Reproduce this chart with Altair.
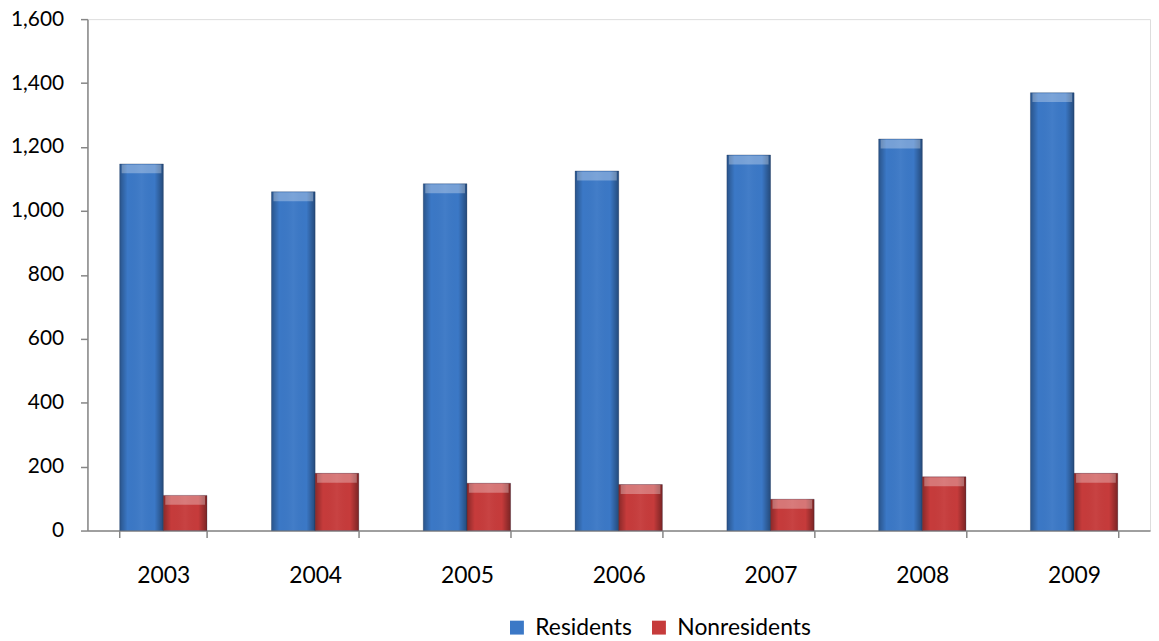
import altair as alt
import pandas as pd

years = ["2003", "2004", "2005", "2006", "2007", "2008", "2009"]
residents = [1147, 1060, 1085, 1125, 1175, 1225, 1370]
nonresidents = [110, 179, 148, 144, 98, 168, 179]
series = ["Residents", "Nonresidents"]
colors = ["#3B78C6", "#C63B3B"]

rows = []
for i, y in enumerate(years):
    rows.append({"year": y, "series": series[0], "value": residents[i]})
    rows.append({"year": y, "series": series[1], "value": nonresidents[i]})
df = pd.DataFrame(rows)

FONT = "Lato"
AX = "#868686"

x_enc = alt.X("year:N", sort=years,
              scale=alt.Scale(paddingInner=0.425, paddingOuter=0.2125),
              axis=alt.Axis(title=None, tickBand="extent", domainColor=AX, tickColor=AX,
                            tickSize=7, labelPadding=27, labelFontSize=23, labelFont=FONT,
                            labelColor="#000000", labelAngle=0, domainWidth=1.5, tickWidth=1.5))
y_enc = alt.Y("value:Q", scale=alt.Scale(domain=[0, 1600], nice=False),
              axis=alt.Axis(title=None, values=list(range(0, 1601, 200)), format=",.0f",
                            grid=False, domainColor=AX, tickColor=AX, tickSize=7,
                            labelPadding=17, labelFontSize=21, labelFont=FONT,
                            labelColor="#000000", domainWidth=1.5, tickWidth=1.5))
xo = alt.XOffset("series:N", sort=series, scale=alt.Scale(domain=series, paddingInner=0))

base = alt.Chart(df)

bars = base.mark_bar(stroke="#1d3050", strokeOpacity=0.35, strokeWidth=0.8).encode(
    x=x_enc, y=y_enc, xOffset=xo,
    color=alt.Color("series:N", sort=series,
                    scale=alt.Scale(domain=series, range=colors),
                    legend=alt.Legend(title=None, orient="none", legendX=421, legendY=601,
                                      direction="horizontal", symbolType="square",
                                      symbolSize=196, symbolStrokeWidth=0,
                                      labelFontSize=23, labelFont=FONT, labelColor="#000000",
                                      labelOffset=7, columnPadding=15)),
)

shade = alt.Gradient(
    gradient="linear", x1=0, x2=1, y1=0, y2=0,
    stops=[
        alt.GradientStop(color="rgba(0,0,0,0.30)", offset=0),
        alt.GradientStop(color="rgba(0,0,0,0.0)", offset=0.18),
        alt.GradientStop(color="rgba(255,255,255,0.04)", offset=0.5),
        alt.GradientStop(color="rgba(0,0,0,0.0)", offset=0.8),
        alt.GradientStop(color="rgba(0,0,0,0.38)", offset=1),
    ],
)
overlay = base.mark_bar(color=shade).encode(x=x_enc, y=y_enc, xOffset=xo)

top = base.mark_tick(color="white", opacity=0.3, thickness=9, size=40, yOffset=5).encode(
    x=x_enc, y=y_enc, xOffset=xo)

chart = alt.layer(bars, overlay, top).properties(
    width=1070, height=515,
    autosize=alt.AutoSizeParams(type="none"),
    padding={"left": 80, "top": 9, "right": 1, "bottom": 108},
).configure_view(stroke=None).configure(background="white")

chart.save("out.html", embed_options={"renderer": "svg", "actions": False})
